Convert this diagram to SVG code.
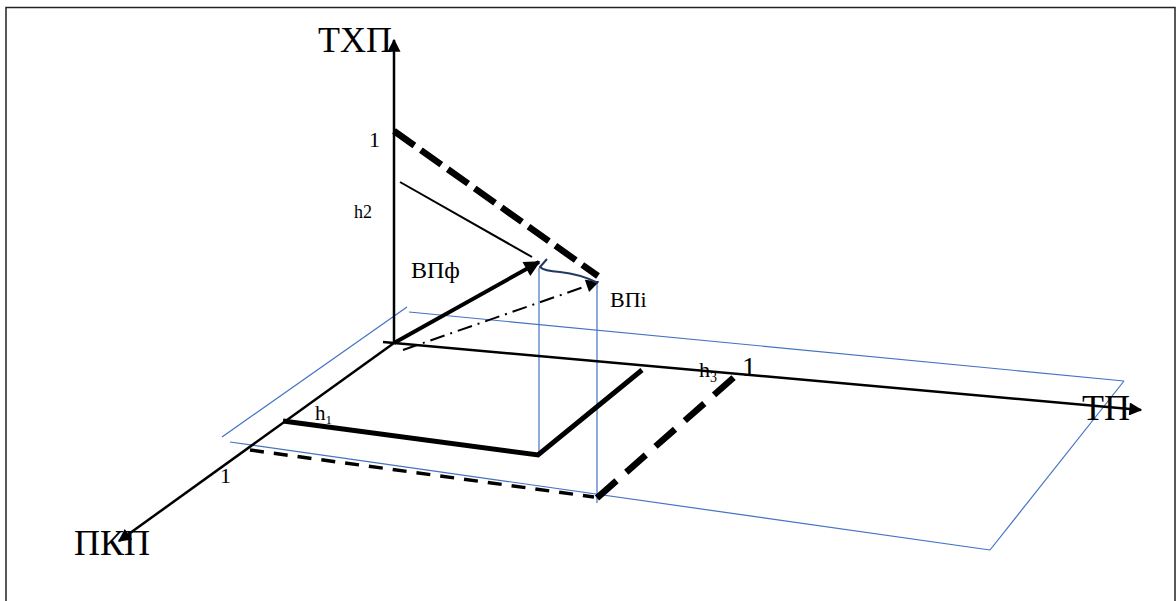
<svg xmlns="http://www.w3.org/2000/svg" width="1176" height="601" viewBox="0 0 1176 601">
<defs>
<style>
.ax{stroke:#000;stroke-width:2.5;fill:none}
.bl{stroke:#4472c4;stroke-width:1.2;fill:none}
.t{font-family:"Liberation Serif","Times New Roman",serif;fill:#000}
</style>
<marker id="ah" viewBox="0 0 10 10" refX="9" refY="5" markerWidth="16" markerHeight="13" markerUnits="userSpaceOnUse" orient="auto"><path d="M0,0 L10,5 L0,10 Z" fill="#000"/></marker>
<marker id="ahb" viewBox="0 0 10 10" refX="9" refY="5" markerWidth="20" markerHeight="16" markerUnits="userSpaceOnUse" orient="auto"><path d="M0,0 L10,5 L0,10 Z" fill="#000"/></marker>
</defs>
<rect x="6" y="7.5" width="1169" height="620" fill="#fff" stroke="#222" stroke-width="1.5"/>
<g id="plane">
<line class="bl" x1="222" y1="437" x2="407" y2="307"/>
<line class="bl" x1="409" y1="312" x2="1124" y2="381"/>
<line class="bl" x1="1124" y1="381" x2="990" y2="550"/>
<line class="bl" x1="230" y1="442" x2="990" y2="550"/>
<line class="bl" x1="539" y1="268" x2="539" y2="456"/>
<line class="bl" x1="597" y1="282" x2="597" y2="503"/>
</g>
<g id="connectors">
<line class="ax" x1="394" y1="343" x2="394" y2="40" marker-end="url(#ah)"/>
<line class="ax" x1="383" y1="342" x2="1141" y2="410" marker-end="url(#ah)"/>
<line class="ax" x1="394" y1="343" x2="119" y2="541" marker-end="url(#ah)"/>
<line x1="394" y1="131" x2="598" y2="276" stroke="#000" stroke-width="6.5" stroke-dasharray="25,8"/>
<line x1="400" y1="182" x2="532" y2="257" stroke="#000" stroke-width="2"/>
<line x1="394" y1="343" x2="539" y2="262" stroke="#000" stroke-width="4" marker-end="url(#ahb)"/>
<line x1="403" y1="350" x2="598" y2="282" stroke="#000" stroke-width="2" stroke-dasharray="15,6,2,6" marker-end="url(#ah)"/>
<path d="M547,259 L540,267 Q544,271 560,272 Q580,274 598,283" fill="none" stroke="#1f3864" stroke-width="2"/>
<polyline points="283,421 538,455 642,370" fill="none" stroke="#000" stroke-width="5"/>
<line x1="250" y1="450" x2="594" y2="497" stroke="#000" stroke-width="3.5" stroke-dasharray="14,10"/>
<line x1="597" y1="498" x2="740" y2="372" stroke="#000" stroke-width="6.5" stroke-dasharray="26,13"/>
</g>
<g id="labels">
<text class="t" x="318" y="52" font-size="36">ТХП</text>
<text class="t" x="369" y="147" font-size="22">1</text>
<text class="t" x="354" y="218" font-size="18">h2</text>
<text class="t" x="411" y="278" font-size="24">ВПф</text>
<text class="t" x="610" y="307" font-size="22">ВПi</text>
<text class="t" x="315" y="420" font-size="21">h<tspan font-size="13" dy="4">1</tspan></text>
<text class="t" x="220" y="483" font-size="22">1</text>
<text class="t" x="74" y="555" font-size="36">ПКП</text>
<text class="t" x="699" y="377" font-size="22">h<tspan font-size="14" dy="5">3</tspan></text>
<text class="t" x="742" y="376" font-size="28">1</text>
<text class="t" x="1082" y="420" font-size="36">ТП</text>
</g>
</svg>
